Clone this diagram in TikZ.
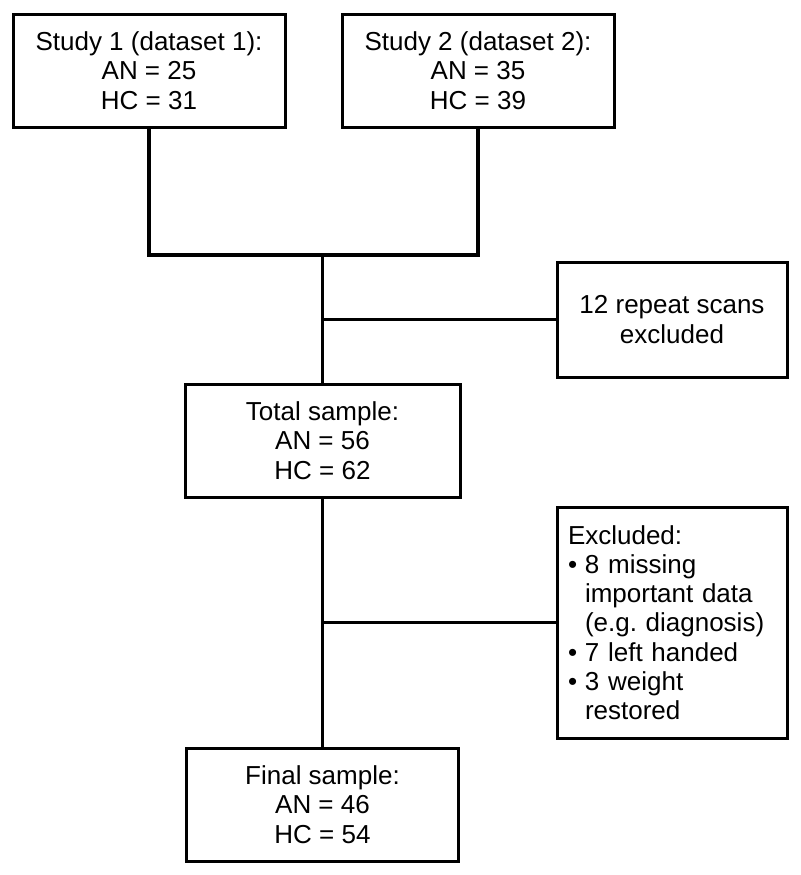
\documentclass[tikz,border=0pt]{standalone}
\usepackage{fontspec}
\setmainfont{Liberation Sans}
\usepackage{tikz}

\tikzset{
  box/.style={draw, line width=1.5pt, rectangle, align=center, inner sep=2pt,
    font=\fontsize{13}{14.6}\selectfont},
  link/.style={line width=1.9pt}
}

\newcommand{\bulletitem}{\makebox[8.5pt][l]{\textbullet}}
\newcommand{\bulletgap}{\hspace*{8.5pt}}

\begin{document}
\begin{tikzpicture}[x=0.5pt, y=-0.5pt]
  \useasboundingbox (0,0) rectangle (800,875);

  % Studies
  \node[box, minimum width=136pt, minimum height=56.5pt] (study1) at (149,70.5)
    {Study 1 (dataset 1):\\AN = 25\\HC = 31};
  \node[box, minimum width=136pt, minimum height=56.5pt] (study2) at (478,70.5)
    {Study 2 (dataset 2):\\AN = 35\\HC = 39};

  % Samples
  \node[box, minimum width=137.5pt, minimum height=56.5pt] (total) at (322.5,440.5)
    {Total sample:\\AN = 56\\HC = 62};
  \node[box, minimum width=136pt, minimum height=56.5pt] (final) at (322.5,804.5)
    {Final sample:\\AN = 46\\HC = 54};

  % Exclusions
  \node[box, minimum width=115pt, minimum height=57.5pt] (repeat) at (672,319.5)
    {12 repeat scans\\excluded};
  \node[box, align=left, text width=104pt, inner xsep=5.5pt, minimum height=115.5pt] (excl) at (672,622.5)
    {Excluded:\\
     \bulletitem 8 missing\\
     \bulletgap important data\\
     \bulletgap (e.g.\ diagnosis)\\
     \bulletitem 7 left handed\\
     \bulletitem 3 weight\\
     \bulletgap restored};

  % Junctions
  \coordinate (merge) at (322.5,255);
  \coordinate (cut1) at (merge |- repeat.west);
  \coordinate (cut2) at (merge |- excl.west);

  % Lines
  \draw[link] (study1.south) -- (study1.south |- merge) -- (study2.south |- merge) -- (study2.south);
  \draw[link] (merge) -- (total.north);
  \draw[link] (cut1) -- (repeat.west);
  \draw[link] (total.south) -- (final.north);
  \draw[link] (cut2) -- (excl.west);
\end{tikzpicture}
\end{document}
